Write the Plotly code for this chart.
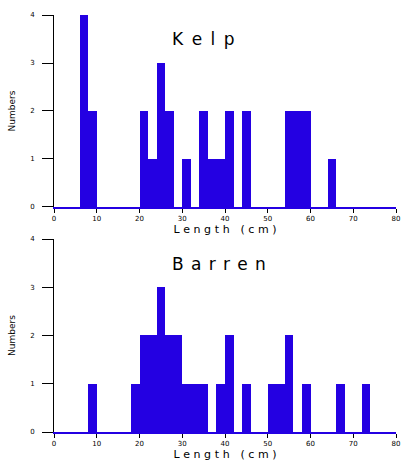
import plotly.graph_objects as go
from plotly.subplots import make_subplots

# 2-cm length bins (left edges) and counts
kelp_bins = [6, 8, 20, 22, 24, 26, 30, 34, 36, 38, 40, 44, 54, 56, 58, 64]
kelp_counts = [4, 2, 2, 1, 3, 2, 1, 2, 1, 1, 2, 2, 2, 2, 2, 1]

barren_bins = [8, 18, 20, 22, 24, 26, 28, 30, 32, 34, 38, 40, 44, 50, 52, 54, 58, 66, 72]
barren_counts = [1, 1, 2, 2, 3, 2, 2, 1, 1, 1, 1, 2, 1, 1, 1, 2, 1, 1, 1]

bin_width = 2
x_ticks = [0, 10, 20, 30, 40, 50, 60, 70, 80]
y_ticks = [0, 1, 2, 3, 4]
panel_titles = ["Kelp", "Barren"]
x_title = "Length (cm)"
y_title = "Numbers"

BAR = "#2400E2"


def spaced(s, sep):
    return sep.join(list(s))


fig = make_subplots(rows=2, cols=1, vertical_spacing=0.077)

for i, (bins, counts) in enumerate([(kelp_bins, kelp_counts), (barren_bins, barren_counts)]):
    centers = [b + bin_width / 2 for b in bins]
    fig.add_trace(
        go.Bar(x=centers, y=counts, width=[bin_width] * len(bins),
               marker=dict(color=BAR, line=dict(width=0)), showlegend=False),
        row=i + 1, col=1)

common_x = dict(range=[0, 80], tickvals=x_ticks, ticks="outside", ticklen=4,
                tickcolor="black", tickwidth=1, showline=True, linecolor=BAR,
                linewidth=1.5, showgrid=False, zeroline=False,
                tickfont=dict(family="DejaVu Sans", size=7, color="black"),
                title=dict(text=spaced(x_title, "\u2004"), standoff=3,
                           font=dict(family="DejaVu Sans", size=11, color="black")))
common_y = dict(range=[0, 4], tickvals=y_ticks, ticks="outside", ticklen=11,
                tickcolor="black", tickwidth=1, showline=True, linecolor="black",
                linewidth=1, showgrid=False, zeroline=False, ticklabelstandoff=6,
                tickfont=dict(family="DejaVu Sans", size=7, color="black"),
                title=dict(text=y_title, standoff=12,
                           font=dict(family="DejaVu Sans", size=9, color="black")))

fig.update_xaxes(**common_x)
fig.update_yaxes(**common_y)
fig.update_layout(
    yaxis=dict(domain=[0.5396, 1.0]),
    yaxis2=dict(domain=[0.0, 0.4628]),
)

fig.add_annotation(text=spaced(panel_titles[0], "\u2002"), xref="x domain", yref="y domain",
                   x=0.34, y=0.875, xanchor="left", yanchor="middle", showarrow=False,
                   font=dict(family="DejaVu Sans", size=17, color="black"))
fig.add_annotation(text=spaced(panel_titles[1], "\u2004\u200a"), xref="x2 domain", yref="y2 domain",
                   x=0.34, y=0.87, xanchor="left", yanchor="middle", showarrow=False,
                   font=dict(family="DejaVu Sans", size=17, color="black"))

fig.update_layout(
    width=405, height=466,
    margin=dict(l=54, r=5, t=15, b=34),
    bargap=0,
    plot_bgcolor="white", paper_bgcolor="white",
)

fig.write_html("out.html", config={"displayModeBar": False},
               post_script="document.body.style.margin='0';")
